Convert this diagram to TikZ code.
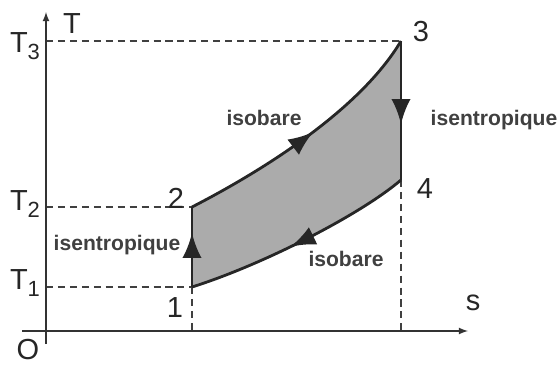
\documentclass[tikz,border=0pt]{standalone}
\usepackage{fontspec}
\setmainfont{Liberation Sans}
\usetikzlibrary{arrows}
\usetikzlibrary{decorations.markings}

\newcommand{\Tidx}[1]{T\raisebox{-0.5ex}{\fontsize{12.5}{13}\selectfont #1}}

\tikzset{
  axe/.style={black!80, line width=0.8pt, -{latex[scale=1.4]}},
  tiret/.style={black!75, dash pattern=on 4pt off 2.8pt, line width=0.6pt},
  trajet/.style={black!85, line width=1.6pt, line join=round},
  fleche/.style={postaction={decorate}, decoration={markings, mark=at position #1 with {\arrow[scale=1.9]{latex}}}},
  grand/.style={font=\fontsize{16.5}{18}\selectfont, text=black!85, inner sep=0pt},
  etiq/.style={font=\fontsize{12}{14}\selectfont\bfseries, text=black!75, inner sep=0pt}
}

\begin{document}
\begin{tikzpicture}[x=0.02cm, y=-0.02cm]
    \useasboundingbox (0,0) rectangle (559,365);
    \coordinate (o) at (46,331);
    \coordinate (ytop) at (46,12);
    \coordinate (ybot) at (46,344);
    \coordinate (xleft) at (22,331);
    \coordinate (xright) at (468,331);
    \coordinate (p1) at (192,287);
    \coordinate (p2) at (192,207);
    \coordinate (p3) at (401,41);
    \coordinate (p4) at (401,180);
    \coordinate (s1) at (192,331);
    \coordinate (s4) at (401,331);
    \coordinate (t1) at (46,287);
    \coordinate (t2) at (46,207);
    \coordinate (t3) at (46,41);
    \fill[black!33] (p1) -- (p2) .. controls (262,171) and (360,110) .. (p3) -- (p4) .. controls (360,215) and (262,265) .. (p1) -- cycle;
    \draw[tiret] (t3) -- (p3);
    \draw[tiret] (t2) -- (p2);
    \draw[tiret] (t1) -- (p1);
    \draw[tiret] (p1) -- (s1);
    \draw[tiret] (p4) -- (s4);
    \draw[axe] (ybot) -- (ytop);
    \draw[axe] (xleft) -- (xright);
    \draw[trajet, fleche=0.68] (p1) -- (p2);
    \draw[trajet, fleche=0.53] (p2) .. controls (262,171) and (360,110) .. (p3);
    \draw[trajet, fleche=0.6] (p3) -- (p4);
    \draw[trajet, fleche=0.55] (p4) .. controls (360,215) and (262,265) .. (p1);
    \node[grand] (T) at (72,24) {T};
    \node[grand] (s) at (473,303) {s};
    \node[grand] (O) at (28,350) {O};
    \node[grand] (T3) at (25,46) {\Tidx{3}};
    \node[grand] (T2) at (25,204) {\Tidx{2}};
    \node[grand] (T1) at (25,283) {\Tidx{1}};
    \node[grand] (n1) at (175,308) {1};
    \node[grand] (n2) at (176,198) {2};
    \node[grand] (n3) at (421,32) {3};
    \node[grand] (n4) at (425,189) {4};
    \node[etiq] (isoh) at (264,118) {isobare};
    \node[etiq] (isob) at (346,259) {isobare};
    \node[etiq] (isend) at (494,120) {isentropique};
    \node[etiq] (iseng) at (117,245) {isentropique};
\end{tikzpicture}
\end{document}
